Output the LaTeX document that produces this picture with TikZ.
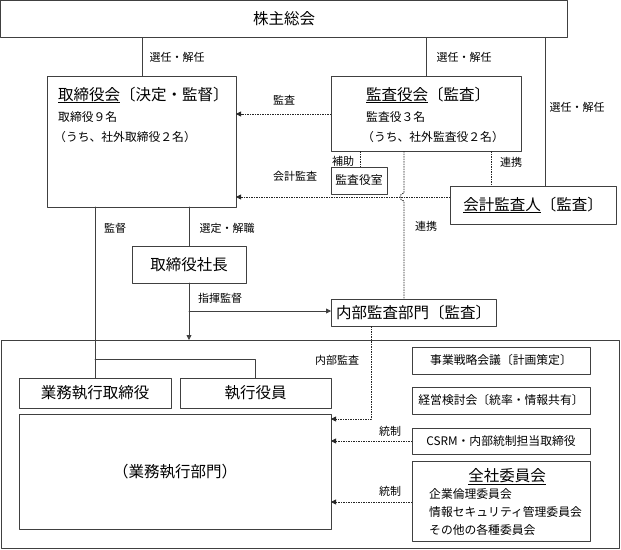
\documentclass[tikz,border=0pt]{standalone}
\usepackage{fontspec}
\setmainfont{Noto Sans CJK JP}
\usepackage{tikz}
\usetikzlibrary{arrows.meta}

\newcommand{\bigtxt}{\fontsize{15.5}{18}\selectfont}
\newcommand{\midtxt}{\fontsize{11.8}{14}\selectfont}
\newcommand{\lbltxt}{\fontsize{11}{13}\selectfont}

\begin{document}
\begin{tikzpicture}[line cap=round,line join=round,>={Triangle[length=5pt,width=5pt]},x=1pt,y=-1pt,
    box/.style={draw=black!75,line width=0.8pt,inner sep=0pt,outer sep=0pt,anchor=north west},
    conn/.style={black!75,line width=0.8pt},
    dotconn/.style={black!85,line width=0.8pt,line cap=butt,dash pattern=on 1.5pt off 1pt},
    lbl/.style={font=\lbltxt,inner sep=0pt},
    txt/.style={font=\midtxt,inner sep=0pt,anchor=west}]
  \useasboundingbox (0,0) rectangle (621,549);
  % boxes
  \node[box,minimum width=567,minimum height=37,font=\bigtxt] (sh) at (0.5,0.5) {株主総会};
  \node[box,minimum width=188.5,minimum height=131] (bod) at (47.5,76) {};
  \node[box,minimum width=190,minimum height=75] (kan) at (331,76) {};
  \node[box,minimum width=56,minimum height=27,font=\midtxt] (shitsu) at (331,167) {監査役室};
  \node[box,minimum width=166,minimum height=38,font=\bigtxt] (kaikei) at (450,186) {\underline{会計監査人}〔監査〕};
  \node[box,minimum width=114,minimum height=37,font=\bigtxt] (pres) at (132,246) {取締役社長};
  \node[box,minimum width=165,minimum height=27,font=\bigtxt] (naibu) at (331,299) {内部監査部門〔監査〕};
  \node[box,minimum width=618,minimum height=208] (exec) at (1,340) {};
  \node[box,minimum width=152,minimum height=30,font=\bigtxt] (gyo) at (19,378) {業務執行取締役};
  \node[box,minimum width=151,minimum height=30,font=\bigtxt] (shikko) at (180,378) {執行役員};
  \node[box,minimum width=312,minimum height=115,font=\bigtxt] (dept) at (19,414) {（業務執行部門）};
  \node[box,minimum width=178,minimum height=27,font=\midtxt] (senryaku) at (412,347) {事業戦略会議〔計画策定〕};
  \node[box,minimum width=178,minimum height=27,font=\midtxt] (keiei) at (412,387) {経営検討会〔統率・情報共有〕};
  \node[box,minimum width=178,minimum height=26,font=\midtxt] (csrm) at (412,428) {CSRM・内部統制担当取締役};
  \node[box,minimum width=178,minimum height=80] (iinkai) at (412,461) {};
  % box texts
  \node[txt,font=\bigtxt] (bodtitle) at (58,95) {\underline{取締役会}〔決定・監督〕};
  \node[txt] (bodnum) at (58,117) {取締役９名};
  \node[txt] (bodout) at (54,137) {（うち、社外取締役２名）};
  \node[txt,font=\bigtxt] (kantitle) at (366,95) {\underline{監査役会}〔監査〕};
  \node[txt] (kannum) at (366,117) {監査役３名};
  \node[txt] (kanout) at (362,137) {（うち、社外監査役２名）};
  \node[inner sep=0pt,font=\bigtxt] (iintitle) at (507,477) {\underline{全社委員会}};
  \node[txt] (iin1) at (429,494) {企業倫理委員会};
  \node[txt] (iin2) at (429,512) {情報セキュリティ管理委員会};
  \node[txt] (iin3) at (429,530) {その他の各種委員会};
  % connectors
  \draw[conn] (142,0 |- sh.south) -- (142,0 |- bod.north);
  \draw[conn] (426,0 |- sh.south) -- (426,0 |- kan.north);
  \draw[conn] (545,0 |- sh.south) -- (545,0 |- kaikei.north);
  \draw[dotconn,->] (kan.west |- 0,114) -- (bod.east |- 0,114);
  \draw[dotconn,->] (kaikei.west |- 0,197) -- (bod.east |- 0,197);
  \draw[dotconn] (360,0 |- kan.south) -- (360,0 |- shitsu.north);
  \draw[dotconn] (491,0 |- kan.south) -- (491,0 |- kaikei.north);
  \draw[dotconn] (404,0 |- kan.south) -- (404,193) arc[start angle=90,end angle=270,radius=4pt] -- (404,0 |- naibu.north);
  \draw[conn] (95,0 |- bod.south) -- (95,0 |- gyo.north);
  \draw[conn] (95,359) -| (shikko.north);
  \draw[conn] (189,0 |- bod.south) -- (pres.north);
  \draw[conn,->] (pres.south) -- (pres.south |- exec.north);
  \draw[conn,->] (pres.south |- 0,311) -- (naibu.west |- 0,311);
  \draw[dotconn,->] (371,0 |- naibu.south) |- (dept.east |- 0,419);
  \draw[dotconn,->] (csrm.west) -- (dept.east |- csrm.west);
  \draw[dotconn,->] (iinkai.west |- 0,502) -- (dept.east |- 0,502);
  % labels
  \node[lbl] (selA) at (177,57) {選任・解任};
  \node[lbl] (selB) at (464,57) {選任・解任};
  \node[lbl] (selC) at (577,107) {選任・解任};
  \node[lbl] (audit) at (284,100) {監査};
  \node[lbl] (assist) at (343,161) {補助};
  \node[lbl] (accaudit) at (295,176) {会計監査};
  \node[lbl] (coopA) at (511,162) {連携};
  \node[lbl] (coopB) at (426,226) {連携};
  \node[lbl] (superv) at (115,228) {監督};
  \node[lbl] (appoint) at (227,228) {選定・解職};
  \node[lbl] (command) at (220,298) {指揮監督};
  \node[lbl] (intaudit) at (337,360) {内部監査};
  \node[lbl] (ctrlA) at (390,431) {統制};
  \node[lbl] (ctrlB) at (390,491) {統制};
\end{tikzpicture}
\end{document}
